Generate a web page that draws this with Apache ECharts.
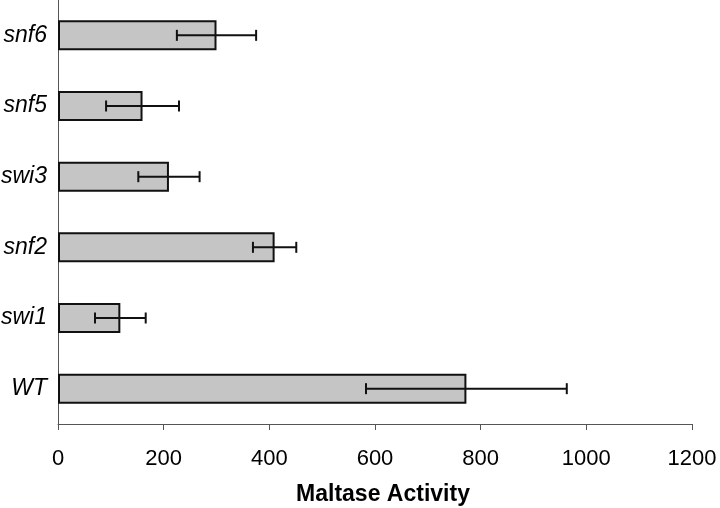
<!DOCTYPE html>
<html>
<head>
<meta charset="utf-8">
<script src="https://cdn.jsdelivr.net/npm/echarts@6/dist/echarts.min.js"></script>
<style>
html,body{margin:0;padding:0;background:#fff;}
#chart{width:720px;height:508px;}
</style>
</head>
<body>
<div id="chart"></div>
<script>
var categories = ['WT', 'swi1', 'snf2', 'swi3', 'snf5', 'snf6'];
var values = [773, 118, 410, 210, 160, 300];
var errors = [190, 48, 41, 58, 69, 75];
var xTicks = [0, 200, 400, 600, 800, 1000, 1200];

var errData = categories.map(function (c, i) {
  return [i, values[i] - errors[i], values[i] + errors[i]];
});

var chart = echarts.init(document.getElementById('chart'), null, {renderer: 'canvas'});
chart.setOption({
  animation: false,
  backgroundColor: '#ffffff',
  grid: {left: 58, right: 28, top: 0, bottom: 84, containLabel: false, outerBoundsMode: 'none'},
  xAxis: {
    type: 'value',
    min: xTicks[0],
    max: xTicks[xTicks.length - 1],
    interval: 200,
    name: 'Maltase Activity',
    nameLocation: 'middle',
    nameGap: 59,
    nameTextStyle: {fontFamily: 'Liberation Sans', fontWeight: 'bold', fontSize: 23, color: '#000', padding: [0, 0, 0, 16]},
    axisLine: {show: true, lineStyle: {color: '#555', width: 1}},
    axisTick: {show: true, length: 6, lineStyle: {color: '#555', width: 1}},
    axisLabel: {fontFamily: 'Liberation Sans', fontSize: 22, color: '#000', margin: 24,
      formatter: function (v) { return String(v); }},
    splitLine: {show: false}
  },
  yAxis: {
    type: 'category',
    data: categories,
    axisLine: {show: true, onZero: false, lineStyle: {color: '#555', width: 1}},
    axisTick: {show: false},
    axisLabel: {fontFamily: 'Liberation Sans', fontStyle: 'italic', fontSize: 23, color: '#000', margin: 11}
  },
  series: [
    {
      type: 'bar',
      data: values,
      barWidth: 30,
      itemStyle: {color: '#c5c5c5', borderColor: '#111', borderWidth: 2}
    },
    {
      type: 'custom',
      data: errData,
      encode: {y: 0, x: [1, 2]},
      z: 5,
      renderItem: function (params, api) {
        var idx = api.value(0);
        var lo = api.coord([api.value(1), idx]);
        var hi = api.coord([api.value(2), idx]);
        var cap = 5.5;
        var style = {stroke: '#111', lineWidth: 2};
        return {
          type: 'group',
          children: [
            {type: 'line', shape: {x1: lo[0], y1: lo[1], x2: hi[0], y2: hi[1]}, style: style},
            {type: 'line', shape: {x1: lo[0], y1: lo[1] - cap, x2: lo[0], y2: lo[1] + cap}, style: style},
            {type: 'line', shape: {x1: hi[0], y1: hi[1] - cap, x2: hi[0], y2: hi[1] + cap}, style: style}
          ]
        };
      }
    }
  ]
});
</script>
</body>
</html>
